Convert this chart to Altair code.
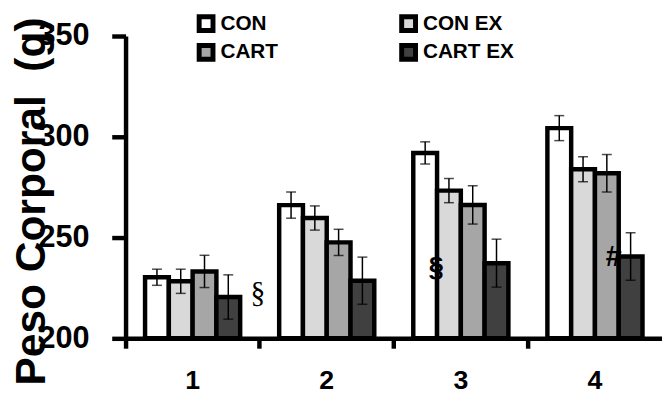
import altair as alt
import pandas as pd

groups = ["1", "2", "3", "4"]
series = ["CON", "CON EX", "CART", "CART EX"]
colors = {"CON": "#ffffff", "CON EX": "#d9d9d9", "CART": "#a6a6a6", "CART EX": "#404040"}
legend_order = ["CON", "CART", "CON EX", "CART EX"]

con = [230.3, 266.1, 292.0, 304.3]
con_ex = [228.3, 259.7, 273.3, 283.9]
cart = [233.2, 247.6, 266.2, 281.9]
cart_ex = [220.5, 228.6, 237.3, 240.6]

con_err = [4.0, 6.5, 5.5, 6.2]
con_ex_err = [6.0, 6.0, 6.0, 6.2]
cart_err = [8.0, 6.5, 9.5, 9.3]
cart_ex_err = [11.0, 11.7, 11.9, 11.8]

ann_text = ["§", "§", "#"]
ann_group = ["1", "3", "4"]
ann_value = [222.5, 235.0, 240.4]

rows = []
for s, vals, errs in [("CON", con, con_err), ("CON EX", con_ex, con_ex_err),
                      ("CART", cart, cart_err), ("CART EX", cart_ex, cart_ex_err)]:
    for g, v, e in zip(groups, vals, errs):
        rows.append({"group": g, "series": s, "value": v, "lo": v - e, "hi": v + e})
df = pd.DataFrame(rows)
ann = pd.DataFrame({"text": ann_text, "group": ann_group, "value": ann_value,
                    "idx": list(range(len(ann_text)))})

FONT = "Liberation Sans"

x_enc = alt.X(
    "group:N", sort=groups,
    scale=alt.Scale(paddingInner=0, paddingOuter=0),
    axis=alt.Axis(title=None, labelAngle=0, bandPosition=0,
                  domainWidth=4.5, domainColor="black", tickWidth=4.5, tickColor="black",
                  tickSize=10, labelFontSize=27, labelFont=FONT, labelFontWeight="bold",
                  labelColor="black", labelPadding=20),
)
xo_enc = alt.XOffset("series:N", sort=series,
                     scale=alt.Scale(paddingInner=0, paddingOuter=0.82))
y_scale = alt.Scale(domain=[200, 350], zero=False, nice=False)

bars = alt.Chart(df).mark_bar(stroke="black", strokeWidth=4.5).encode(
    x=x_enc,
    xOffset=xo_enc,
    y=alt.Y("value:Q", scale=y_scale,
            axis=alt.Axis(values=[200, 250, 300, 350], grid=False,
                          title="Peso Corporal\u00a0 (g)", titleFontSize=43, titleFont=FONT,
                          titleFontWeight="bold", titleColor="black", titleAngle=270,
                          titleAlign="center", titleBaseline="alphabetic",
                          titleX=-82, titleY=167,
                          domainWidth=4.5, domainColor="black", tickWidth=4.5,
                          tickColor="black", tickSize=14, labelFontSize=31,
                          labelFont=FONT, labelFontWeight="bold", labelColor="black",
                          labelPadding=23)),
    y2=alt.datum(200),
    fill=alt.Fill("series:N",
                  scale=alt.Scale(domain=legend_order,
                                  range=[colors[s] for s in legend_order]),
                  legend=alt.Legend(title=None, orient="none", legendX=71, legendY=-23,
                                    columns=2, columnPadding=121, rowPadding=7,
                                    clipHeight=21,
                                    symbolType="square", symbolSize=196,
                                    symbolStrokeColor="black", symbolStrokeWidth=5,
                                    labelFontSize=21, labelFont=FONT,
                                    labelFontWeight="bold", labelColor="black",
                                    labelOffset=4, padding=0)),
)

err = alt.Chart(df).mark_rule(color="black", strokeWidth=1.5).encode(
    x=alt.X("group:N", sort=groups), xOffset=xo_enc,
    y=alt.Y("lo:Q", scale=y_scale), y2="hi:Q",
)
cap_lo = alt.Chart(df).mark_tick(color="black", thickness=1.5, size=10).encode(
    x=alt.X("group:N", sort=groups), xOffset=xo_enc,
    y=alt.Y("lo:Q", scale=y_scale),
)
cap_hi = alt.Chart(df).mark_tick(color="black", thickness=1.5, size=10).encode(
    x=alt.X("group:N", sort=groups), xOffset=xo_enc,
    y=alt.Y("hi:Q", scale=y_scale),
)

def ann_layer(i, dx, font, weight, size):
    return alt.Chart(ann).transform_filter(alt.datum.idx == i).mark_text(
        dx=dx, font=font, fontWeight=weight, fontSize=size, color="black",
        baseline="middle", align="center",
    ).encode(
        x=alt.X("group:N", sort=groups),
        y=alt.Y("value:Q", scale=y_scale),
        text="text:N",
    )

a1 = ann_layer(0, 66, "Liberation Serif", "normal", 30)
a2 = ann_layer(1, -25, FONT, "bold", 28)
a3 = ann_layer(2, 19, FONT, "bold", 29)

chart = alt.layer(bars, err, cap_lo, cap_hi, a1, a2, a3).properties(
    width=543, height=306,
    autosize=alt.AutoSizeParams(type="none"),
    padding={"left": 119, "top": 26, "right": 0, "bottom": 55},
).configure_view(stroke=None)

chart.save("out.html", embed_options={"renderer": "svg", "actions": False})
